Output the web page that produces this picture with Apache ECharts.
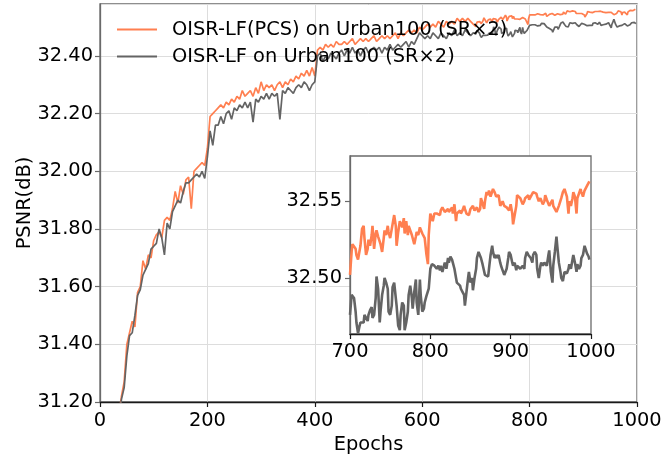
<!DOCTYPE html>
<html>
<head>
<meta charset="utf-8">
<script src="https://cdn.jsdelivr.net/npm/echarts@6/dist/echarts.min.js"></script>
<style>
  html, body { margin: 0; padding: 0; background: #fff; }
  #chart { width: 672px; height: 459px; }
</style>
</head>
<body>
<div id="chart"></div>
<script>
// Training epochs at which PSNR was evaluated
const epochs = [
  30,35,40,45,50,55,60,65,70,75,80,85,90,95,100,105,110,115,120,125,
  130,135,140,145,150,155,160,165,170,175,180,185,190,195,200,205,210,215,220,225,
  230,235,240,245,250,255,260,265,270,275,280,285,290,295,300,305,310,315,320,325,
  330,335,340,345,350,355,360,365,370,375,380,385,390,395,400,
  405,410,415,420,425,430,435,440,445,450,455,460,465,470,475,480,485,490,495,500,
  505,510,515,520,525,530,535,540,545,550,555,560,565,570,575,580,585,590,595,600,
  605,610,615,620,625,630,635,640,645,650,655,660,665,670,675,680,685,690,695,
  700,702,703,705,707,708, 710,712,713,715,717,718, 720,722,723,725,727,728,
  730,732,733,735,737,738, 740,742,743,745,747,748, 750,752,753,755,757,758,
  760,762,763,765,767,768, 770,772,773,775,777,778, 780,782,783,785,787,788,
  790,792,793,795,797,798, 800,802,803,805,807,808, 810,812,813,815,817,818,
  820,822,823,825,827,828, 830,832,833,835,837,838, 840,842,843,845,847,848,
  850,852,853,855,857,858, 860,862,863,865,867,868, 870,872,873,875,877,878,
  880,882,883,885,887,888, 890,892,893,895,897,898, 900,902,903,905,907,908,
  910,912,913,915,917,918, 920,922,923,925,927,928, 930,932,933,935,937,938,
  940,942,943,945,947,948, 950,952,953,955,957,958, 960,962,963,965,967,968,
  970,972,973,975,977,978, 980,982,983,985,987,988, 990,992,993,995,997,998
];

// PSNR (dB) of OISR-LF trained with PCS
const psnrPCS = [
  31.05,31.15,31.22,31.27,31.40,31.44,31.48,31.46,31.58,31.60,31.69,31.66,31.71,31.70,31.76,31.78,31.79,31.77,31.83,31.84,
  31.83,31.87,31.93,31.89,31.95,31.92,31.97,31.98,31.87,32.00,32.01,32.02,32.03,32.02,32.08,32.19,32.20,32.21,32.22,32.23,
  32.22,32.24,32.23,32.25,32.24,32.26,32.25,32.28,32.26,32.27,32.28,32.26,32.29,32.27,32.31,32.28,32.30,32.29,32.30,32.28,
  32.30,32.31,32.29,32.31,32.30,32.32,32.31,32.33,32.32,32.34,32.33,32.35,32.33,32.36,32.33,
  32.42,32.43,32.42,32.44,32.43,32.44,32.43,32.45,32.44,32.44,32.45,32.44,32.45,32.46,32.44,32.45,32.46,32.45,32.46,32.45,
  32.46,32.47,32.45,32.46,32.47,32.46,32.47,32.46,32.47,32.48,32.46,32.48,32.47,32.48,32.49,32.48,32.49,32.48,32.50,32.49,
  32.50,32.51,32.50,32.51,32.50,32.52,32.51,32.50,32.52,32.51,32.52,32.51,32.53,32.52,32.53,32.52,32.53,32.52,32.51,
  32.502,32.517,32.522,32.522,32.519,32.515,32.512,32.512,32.521,32.532,
  32.534,32.526,32.515,32.519,32.525,32.521,32.528,32.534,32.519,32.529,
  32.531,32.527,32.528,32.522,32.517,32.526,32.531,32.528,32.534,32.530,
  32.526,32.532,32.533,32.541,32.534,32.521,32.530,32.537,32.538,32.533,
  32.539,32.529,32.537,32.528,32.534,32.533,32.528,32.528,32.522,32.527,
  32.530,32.528,32.533,32.532,32.529,32.528,32.526,32.516,32.509,32.528,
  32.542,32.542,32.537,32.542,32.541,32.542,32.542,32.541,32.544,32.546,
  32.546,32.543,32.543,32.545,32.543,32.542,32.546,32.542,32.548,32.537,
  32.542,32.542,32.544,32.542,32.544,32.547,32.545,32.542,32.541,32.541,
  32.545,32.546,
  32.547,32.544,32.543,32.546,32.543,32.545,32.552,32.553,32.545,32.550,
  32.556,32.554,32.557,32.553,32.554,32.558,32.556,32.553,32.552,32.554,
  32.547,32.546,32.550,32.547,32.548,32.546,32.547,32.544,32.548,32.542,
  32.535,32.541,32.547,32.554,32.555,32.552,32.553,32.548,32.550,32.552,
  32.552,32.554,32.551,32.553,32.554,32.556,32.557,32.555,32.553,32.550,
  32.552,32.551,32.548,32.550,32.554,32.551,32.551,32.547,32.546,32.551,
  32.547,32.545,32.543,32.542,32.547,32.547,32.552,32.556,32.558,32.557,
  32.553,32.542,32.550,32.547,32.552,32.556,32.553,32.542,32.552,32.555,
  32.558,32.556,32.553,32.557,32.558,32.560,32.562,32.563
];

// PSNR (dB) of plain OISR-LF
const psnrBase = [
  31.04,31.14,31.21,31.25,31.36,31.43,31.44,31.50,31.57,31.59,31.64,31.66,31.68,31.73,31.74,31.75,31.80,31.77,31.71,31.82,
  31.80,31.86,31.88,31.90,31.89,31.93,31.96,31.96,31.97,31.98,31.99,31.98,32.00,31.975,32.05,32.14,32.09,32.16,32.16,32.19,
  32.165,32.20,32.21,32.18,32.22,32.21,32.23,32.22,32.24,32.22,32.24,32.17,32.25,32.24,32.26,32.25,32.27,32.25,32.27,32.26,
  32.27,32.18,32.28,32.27,32.29,32.28,32.27,32.29,32.30,32.29,32.31,32.30,32.28,32.30,32.31,
  32.40,32.41,32.38,32.40,32.39,32.41,32.40,32.39,32.41,32.42,32.40,32.42,32.41,32.43,32.41,32.42,32.40,32.42,32.43,32.41,
  32.42,32.43,32.42,32.43,32.41,32.43,32.42,32.44,32.42,32.43,32.44,32.43,32.44,32.45,32.43,32.45,32.44,32.46,32.48,32.47,
  32.46,32.47,32.46,32.48,32.47,32.46,32.48,32.47,32.46,32.48,32.47,32.49,32.47,32.48,32.47,32.49,32.48,32.47,32.48,
  32.476,32.489,32.488,32.487,32.478,32.471,32.464,32.469,32.471,32.472,
  32.471,32.476,32.474,32.472,32.476,32.479,32.481,32.474,32.476,32.487,
  32.501,32.493,32.471,32.478,32.489,32.495,32.500,32.497,32.493,32.478,
  32.476,32.482,32.494,32.497,32.496,32.482,32.469,32.466,32.476,32.484,
  32.482,32.466,32.471,32.478,32.489,32.495,32.487,32.480,32.491,32.499,
  32.484,32.476,32.499,32.489,32.478,32.480,32.484,32.488,32.487,32.493,
  32.506,32.509,32.510,32.508,32.507,32.506,32.508,32.505,32.508,32.504,
  32.508,32.510,32.506,32.513,32.510,32.514,32.512,32.510,32.506,32.500,
  32.497,32.498,32.495,32.493,32.491,32.489,32.482,32.491,32.500,32.504,
  32.497,32.500,
  32.492,32.500,32.506,32.513,32.517,32.518,32.513,32.509,32.508,32.502,
  32.501,32.501,32.506,32.515,32.521,32.517,32.513,32.515,32.513,32.515,
  32.510,32.508,32.505,32.502,32.502,32.506,32.513,32.517,32.515,32.510,
  32.508,32.510,32.505,32.508,32.509,32.506,32.507,32.508,32.506,32.513,
  32.517,32.515,32.516,32.513,32.510,32.515,32.517,32.515,32.506,32.500,
  32.508,32.510,32.508,32.510,32.510,32.508,32.515,32.518,32.504,32.497,
  32.508,32.517,32.527,32.521,32.510,32.504,32.500,32.498,32.504,32.505,
  32.503,32.506,32.509,32.506,32.512,32.515,32.510,32.504,32.509,32.506,
  32.508,32.513,32.515,32.521,32.520,32.516,32.514,32.512
];

const seriesNames = ['OISR-LF(PCS) on Urban100 (SR\u00d72)', 'OISR-LF on Urban100 (SR\u00d72)'];
const seriesColors = ['#ff7f50', '#646464'];
const mainXTicks = [0, 1000, 200];
const mainYRange = [31.2, 32.58, 0.2];
const zoomXTicks = [700, 1000, 100];
const zoomYRange = [32.4635, 32.5795];
const zoomYLabels = [32.50, 32.55];

const FONT = 'DejaVu Sans';
const FS = 19.4;

function pairs(values, fromEpoch) {
  const out = [];
  for (let i = 0; i < epochs.length; i++) {
    if (epochs[i] >= fromEpoch) out.push([epochs[i], values[i]]);
  }
  return out;
}

const chart = echarts.init(document.getElementById('chart'), null, { renderer: 'canvas' });

const labelStyle = { fontSize: FS, color: '#000', fontFamily: FONT };
const frameColor = '#6a6a6a';
const baseColor = '#1a1a1a';
const plainInt = v => String(Math.round(v));

chart.setOption({
  animation: false,
  backgroundColor: '#fff',
  textStyle: { fontFamily: FONT },
  legend: {
    data: seriesNames,
    orient: 'vertical',
    left: 117,
    top: 19,
    padding: 0,
    itemWidth: 40,
    itemHeight: 2,
    itemGap: 6,
    icon: 'rect',
    textStyle: { fontSize: FS, color: '#000', fontFamily: FONT, lineHeight: 21, padding: [0, 0, 0, 10] }
  },
  grid: [
    { left: 100, top: 4, width: 537, height: 400, show: true, borderColor: frameColor, borderWidth: 1.3, backgroundColor: 'transparent', containLabel: false },
    { left: 350, top: 156, width: 241, height: 178, show: true, borderColor: frameColor, borderWidth: 1.3, backgroundColor: '#fff', z: 5, containLabel: false }
  ],
  xAxis: [
    {
      type: 'value', gridIndex: 0,
      min: mainXTicks[0], max: mainXTicks[1], interval: mainXTicks[2],
      axisLine: { lineStyle: { color: baseColor, width: 1.3 } },
      axisTick: { length: 5, lineStyle: { color: baseColor, width: 1.2 } },
      axisLabel: Object.assign({ margin: 9, formatter: plainInt }, labelStyle),
      splitLine: { show: true, lineStyle: { color: '#dddddd', width: 1 } },
      name: 'Epochs', nameLocation: 'middle', nameGap: 33, nameMoveOverlap: false,
      nameTextStyle: labelStyle
    },
    {
      type: 'value', gridIndex: 1, z: 6,
      min: zoomXTicks[0], max: zoomXTicks[1], interval: zoomXTicks[2],
      axisLine: { lineStyle: { color: baseColor, width: 1.3 } },
      axisTick: { length: 5, lineStyle: { color: baseColor, width: 1.2 } },
      axisLabel: Object.assign({ margin: 8, formatter: plainInt }, labelStyle),
      splitLine: { show: false }
    }
  ],
  yAxis: [
    {
      type: 'value', gridIndex: 0,
      min: mainYRange[0], max: mainYRange[1], interval: mainYRange[2],
      axisLine: { lineStyle: { color: frameColor, width: 1.3 } },
      axisTick: { length: 5, lineStyle: { color: frameColor, width: 1.2 } },
      axisLabel: Object.assign({ margin: 7, showMaxLabel: false, formatter: v => v.toFixed(2) }, labelStyle),
      splitLine: { show: true, lineStyle: { color: '#dddddd', width: 1 } },
      name: 'PSNR(dB)', nameLocation: 'middle', nameGap: 66, nameMoveOverlap: false,
      nameTextStyle: labelStyle
    },
    {
      type: 'value', gridIndex: 1, z: 6,
      min: zoomYRange[0], max: zoomYRange[1],
      axisLine: { lineStyle: { color: frameColor, width: 1.3 } },
      axisTick: { length: 5, lineStyle: { color: frameColor, width: 1.2 }, customValues: zoomYLabels },
      axisLabel: Object.assign({ margin: 8, customValues: zoomYLabels, formatter: v => v.toFixed(2) }, labelStyle),
      splitLine: { show: false }
    }
  ],
  series: [
    {
      name: seriesNames[0], type: 'line', xAxisIndex: 0, yAxisIndex: 0,
      data: pairs(psnrPCS, 0), showSymbol: false, symbol: 'none', clip: true,
      color: seriesColors[0], lineStyle: { color: seriesColors[0], width: 1.7 }
    },
    {
      name: seriesNames[1], type: 'line', xAxisIndex: 0, yAxisIndex: 0,
      data: pairs(psnrBase, 0), showSymbol: false, symbol: 'none', clip: true,
      color: seriesColors[1], lineStyle: { color: seriesColors[1], width: 1.7 }
    },
    {
      name: seriesNames[0], type: 'line', xAxisIndex: 1, yAxisIndex: 1, z: 7,
      data: pairs(psnrPCS, 700), showSymbol: false, symbol: 'none', clip: true,
      color: seriesColors[0], lineStyle: { color: seriesColors[0], width: 2.6 }
    },
    {
      name: seriesNames[1], type: 'line', xAxisIndex: 1, yAxisIndex: 1, z: 7,
      data: pairs(psnrBase, 700), showSymbol: false, symbol: 'none', clip: true,
      color: seriesColors[1], lineStyle: { color: seriesColors[1], width: 2.6 }
    }
  ]
});
</script>
</body>
</html>
